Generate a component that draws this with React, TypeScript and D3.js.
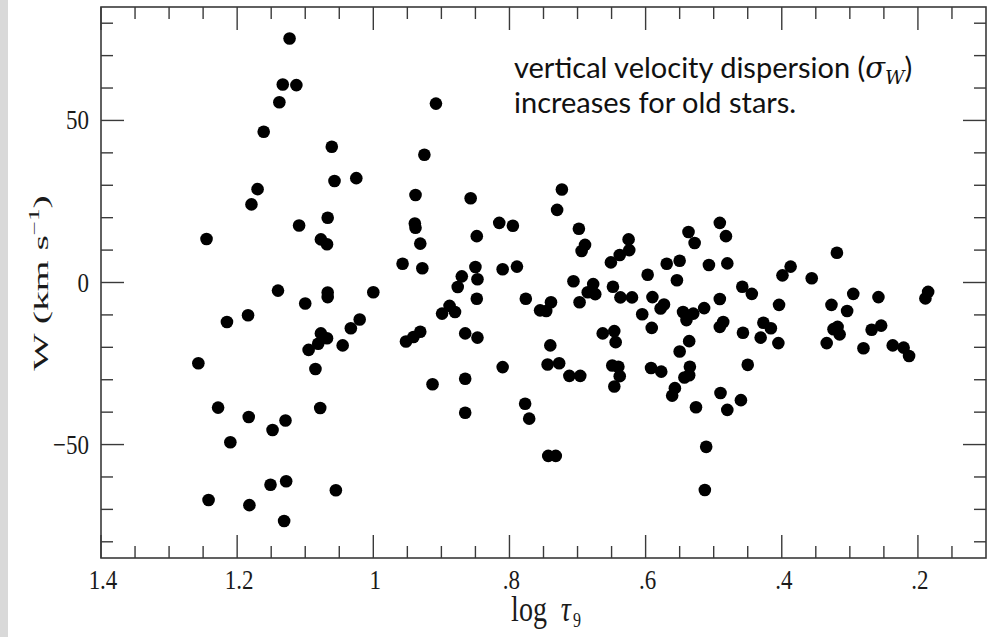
import React from 'react';
import * as d3 from 'd3';

// log tau_9 (age) for each star
const logTau: number[] = [
  1.123, 1.133, 1.113, 1.138, 1.161, 1.061, 0.908, 0.925, 1.170, 1.179,
  1.057, 1.025, 0.938, 0.857, 1.245, 1.109, 1.067, 1.077, 1.068, 0.939,
  0.938, 0.931, 0.848, 0.957, 0.928, 0.850, 0.870, 0.876, 0.847, 0.848,
  1.140, 1.100, 1.067, 1.067, 1.000, 1.184, 1.215, 1.020, 0.899, 0.888,
  0.880, 1.257, 1.077, 1.068, 1.081, 1.095, 1.033, 1.045, 1.085, 0.952,
  0.941, 0.931, 0.865, 0.847, 0.913, 0.865, 0.865, 1.228, 1.183, 1.148,
  1.129, 1.210, 1.078, 1.151, 1.128, 1.055, 1.242, 1.182, 1.131,
  0.723, 0.730, 0.815, 0.795, 0.698, 0.689, 0.694, 0.625, 0.624, 0.638,
  0.651, 0.537, 0.528, 0.491, 0.482, 0.507, 0.480, 0.550, 0.569, 0.597,
  0.554, 0.810, 0.789, 0.706, 0.677, 0.685, 0.674, 0.697, 0.648, 0.637,
  0.620, 0.590, 0.578, 0.573, 0.605, 0.591, 0.545, 0.540, 0.530, 0.514,
  0.491, 0.458, 0.444, 0.486, 0.491, 0.457, 0.776, 0.755, 0.746, 0.739,
  0.740, 0.663, 0.646, 0.644, 0.536, 0.550, 0.810, 0.744, 0.727, 0.712,
  0.696, 0.649, 0.640, 0.638, 0.646, 0.592, 0.577, 0.535, 0.536, 0.543,
  0.557, 0.561, 0.450, 0.490, 0.460, 0.526, 0.480, 0.777, 0.771, 0.743,
  0.732, 0.511, 0.513,
  0.319, 0.387, 0.399, 0.356, 0.295, 0.258, 0.185, 0.189, 0.404, 0.327,
  0.304, 0.427, 0.416, 0.431, 0.405, 0.324, 0.318, 0.315, 0.334, 0.280,
  0.268, 0.254, 0.237, 0.221, 0.213,
];

// vertical velocity W (km/s) for each star, same order
const wVel: number[] = [
  75.3, 61.1, 60.9, 55.6, 46.5, 41.9, 55.2, 39.4, 28.8, 24.1,
  31.3, 32.2, 27.0, 26.0, 13.4, 17.6, 20.0, 13.3, 11.8, 18.2,
  16.9, 12.0, 14.3, 5.8, 4.4, 4.8, 1.9, -1.4, 1.0, -5.0,
  -2.5, -6.5, -3.1, -4.5, -3.0, -10.1, -12.2, -11.4, -9.6, -7.2,
  -9.1, -24.9, -15.7, -17.2, -18.9, -20.8, -14.1, -19.4, -26.7, -18.2,
  -16.8, -15.2, -15.7, -17.0, -31.4, -29.7, -40.2, -38.6, -41.5, -45.5,
  -42.6, -49.3, -38.7, -62.4, -61.3, -64.1, -67.1, -68.7, -73.6,
  28.7, 22.4, 18.4, 17.5, 16.6, 11.6, 9.7, 13.3, 10.0, 8.5,
  6.2, 15.6, 12.2, 18.4, 14.3, 5.4, 5.9, 6.7, 5.8, 2.4,
  0.7, 4.1, 4.9, 0.4, -0.5, -3.0, -3.6, -6.1, -1.3, -4.6,
  -4.6, -4.5, -8.0, -6.8, -9.8, -14.0, -9.1, -11.6, -9.6, -7.9,
  -5.1, -1.3, -3.5, -12.2, -13.7, -15.5, -5.0, -8.6, -8.8, -6.1,
  -19.4, -15.7, -15.0, -18.4, -18.1, -21.3, -26.1, -25.3, -24.9, -28.8,
  -28.8, -25.6, -26.0, -28.9, -32.1, -26.4, -27.5, -26.0, -28.6, -29.3,
  -32.6, -34.9, -25.4, -34.1, -36.3, -38.5, -39.3, -37.4, -42.0, -53.5,
  -53.5, -50.7, -64.0,
  9.2, 4.9, 2.2, 1.3, -3.5, -4.5, -2.9, -4.9, -6.9, -6.9,
  -8.8, -12.4, -14.1, -17.0, -18.7, -14.4, -13.7, -16.0, -18.7, -20.3,
  -14.6, -13.3, -19.4, -20.1, -22.7,
];

const xMajorTicks: number[] = [1.4, 1.2, 1.0, 0.8, 0.6, 0.4, 0.2];
const xTickLabels: string[] = ['1.4', '1.2', '1', '.8', '.6', '.4', '.2'];
const yMajorTicks: number[] = [-50, 0, 50];
const yTickLabels: string[] = ['\u221250', '0', '50'];

const xDomain: [number, number] = [1.4, 0.1];
const yDomain: [number, number] = [-85, 85];

export default function App() {
  const W = 994;
  const H = 637;
  const left = 101;
  const right = 986;
  const top = 7;
  const bottom = 558;

  const x = d3.scaleLinear().domain(xDomain).range([left, right]);
  const y = d3.scaleLinear().domain(yDomain).range([bottom, top]);

  const xMinor = d3.range(0.1, 1.4001, 0.05).filter(
    (v) => !xMajorTicks.some((m) => Math.abs(m - v) < 1e-6) && v > 0.1001 && v < 1.3999
  );
  const yMinor = d3.range(-80, 80.001, 10).filter((v) => !yMajorTicks.includes(v));

  const majorLen = 23;
  const minorLen = 12;
  const axisColor = '#3a3a3a';
  const serif = '"Liberation Serif", "Times New Roman", serif';
  const sans = 'Lato, "Open Sans", sans-serif';

  const points = logTau.map((t, i) => ({ t, w: wVel[i] }));

  return (
    <svg
      width={W}
      height={H}
      style={{ position: 'absolute', left: 0, top: 0, background: '#fff' }}
    >
      <rect x={0} y={0} width={W} height={H} fill="#fff" />
      <rect x={0} y={0} width={8} height={H} fill="#d9d9d9" />

      {/* frame */}
      <rect
        x={left}
        y={top}
        width={right - left}
        height={bottom - top}
        fill="none"
        stroke={axisColor}
        strokeWidth={1.6}
      />

      {/* x ticks top & bottom */}
      {xMajorTicks.map((v, i) => (
        <g key={'xm' + i}>
          <line x1={x(v)} x2={x(v)} y1={bottom} y2={bottom - majorLen} stroke={axisColor} strokeWidth={1.4} />
          <line x1={x(v)} x2={x(v)} y1={top} y2={top + majorLen} stroke={axisColor} strokeWidth={1.4} />
        </g>
      ))}
      {xMinor.map((v, i) => (
        <g key={'xn' + i}>
          <line x1={x(v)} x2={x(v)} y1={bottom} y2={bottom - minorLen} stroke={axisColor} strokeWidth={1.4} />
          <line x1={x(v)} x2={x(v)} y1={top} y2={top + minorLen} stroke={axisColor} strokeWidth={1.4} />
        </g>
      ))}

      {/* y ticks left & right */}
      {yMajorTicks.map((v, i) => (
        <g key={'ym' + i}>
          <line x1={left} x2={left + majorLen} y1={y(v)} y2={y(v)} stroke={axisColor} strokeWidth={1.4} />
          <line x1={right} x2={right - majorLen} y1={y(v)} y2={y(v)} stroke={axisColor} strokeWidth={1.4} />
        </g>
      ))}
      {yMinor.map((v, i) => (
        <g key={'yn' + i}>
          <line x1={left} x2={left + minorLen} y1={y(v)} y2={y(v)} stroke={axisColor} strokeWidth={1.4} />
          <line x1={right} x2={right - minorLen} y1={y(v)} y2={y(v)} stroke={axisColor} strokeWidth={1.4} />
        </g>
      ))}

      {/* x tick labels */}
      {xMajorTicks.map((v, i) => (
        <text
          key={'xl' + i}
          transform={`translate(${x(v) + 2},${589}) scale(1,1.2)`}
          textAnchor="middle"
          fontFamily={serif}
          fontSize={23}
          fill="#1a1a1a"
        >
          {xTickLabels[i]}
        </text>
      ))}

      {/* y tick labels */}
      {yMajorTicks.map((v, i) => (
        <text
          key={'yl' + i}
          transform={`translate(${89},${y(v) + 9}) scale(1,1.2)`}
          textAnchor="end"
          fontFamily={serif}
          fontSize={23}
          fill="#1a1a1a"
        >
          {yTickLabels[i]}
        </text>
      ))}

      {/* x axis title */}
      <text
        transform={`translate(${546},${621}) scale(1,1.25)`}
        textAnchor="middle"
        fontFamily={serif}
        fontSize={28}
        fill="#1a1a1a"
      >
        log{'\u2002'}
        <tspan fontStyle="italic">τ</tspan>
        <tspan fontSize={16} dy={5} dx={2}>9</tspan>
      </text>

      {/* y axis title */}
      <text
        transform={`translate(${48},${283}) rotate(-90) scale(1.8,1)`}
        textAnchor="middle"
        fontFamily={serif}
        fontSize={22}
        fill="#1a1a1a"
      >
        W (km s
        <tspan fontSize={14} dy={-9}>{'\u2212'}1</tspan>
        <tspan dy={9}>)</tspan>
      </text>

      {/* points */}
      {points.map((p, i) => (
        <circle key={'p' + i} cx={x(p.t)} cy={y(p.w)} r={6.3} fill="#000" />
      ))}

      {/* annotation */}
      <text x={514} y={78} fontFamily={sans} fontSize={29} fill="#111">
        vertical velocity dispersion (
        <tspan fontFamily='"DejaVu Serif", serif' fontStyle="italic">σ</tspan>
        <tspan fontFamily='"DejaVu Serif", serif' fontStyle="italic" fontSize={19} dy={6}>W</tspan>
        <tspan dy={-6}>)</tspan>
      </text>
      <text x={514} y={113} fontFamily={sans} fontSize={29} fill="#111">
        increases for old stars.
      </text>
    </svg>
  );
}
